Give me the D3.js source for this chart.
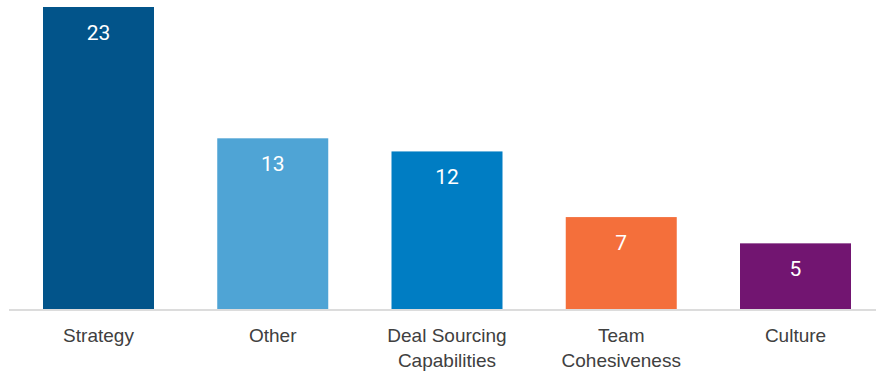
<!DOCTYPE html>
<html>
<head>
<meta charset="utf-8">
<script src="https://cdn.jsdelivr.net/npm/d3@7"></script>
<style>
  html, body { margin: 0; padding: 0; background: #fff; }
  svg { display: block; font-family: Roboto, "Noto Sans", sans-serif; }
</style>
</head>
<body>
<svg id="chart" width="878" height="371"></svg>
<script>
// Reasons cited, by category
const categories = ["Strategy", "Other", "Deal Sourcing\nCapabilities", "Team\nCohesiveness", "Culture"];
const values = [23, 13, 12, 7, 5];
const colors = ["#02548a", "#4fa4d5", "#007dc3", "#f46f3b", "#721571"];

const svg = d3.select("#chart");
const baseY = 309;
const topY = 7;

const x = d3.scaleBand()
  .domain(categories)
  .range([43, 851])
  .paddingInner(0.363)
  .paddingOuter(0);

const y = d3.scaleLinear()
  .domain([0, d3.max(values)])
  .range([baseY, topY]);

const data = categories.map((c, i) => ({ cat: c, value: values[i], color: colors[i] }));

// bars
svg.append("g")
  .selectAll("rect")
  .data(data)
  .join("rect")
  .attr("x", d => x(d.cat))
  .attr("y", d => y(d.value))
  .attr("width", x.bandwidth())
  .attr("height", d => y(0) - y(d.value))
  .attr("fill", d => d.color);

// value labels inside the top of each bar
svg.append("g")
  .selectAll("text")
  .data(data)
  .join("text")
  .attr("x", d => x(d.cat) + x.bandwidth() / 2)
  .attr("y", d => y(d.value) + 33)
  .attr("text-anchor", "middle")
  .attr("fill", "#ffffff")
  .attr("font-size", 21)
  .text(d => d.value);

// baseline
svg.append("line")
  .attr("x1", 9).attr("x2", 876)
  .attr("y1", baseY + 1).attr("y2", baseY + 1)
  .attr("stroke", "#dcdcdc")
  .attr("stroke-width", 2);

// category axis
const axis = svg.append("g")
  .attr("transform", `translate(0,${baseY})`)
  .call(d3.axisBottom(x).tickSize(0).tickFormat(""));
axis.select(".domain").remove();

axis.selectAll(".tick").each(function(d) {
  const t = d3.select(this).append("text")
    .attr("text-anchor", "middle")
    .attr("fill", "#404040")
    .attr("font-size", 19);
  d.split("\n").forEach((line, i) => {
    t.append("tspan")
      .attr("x", 0)
      .attr("y", 32.5 + i * 25)
      .text(line);
  });
});
</script>
</body>
</html>
